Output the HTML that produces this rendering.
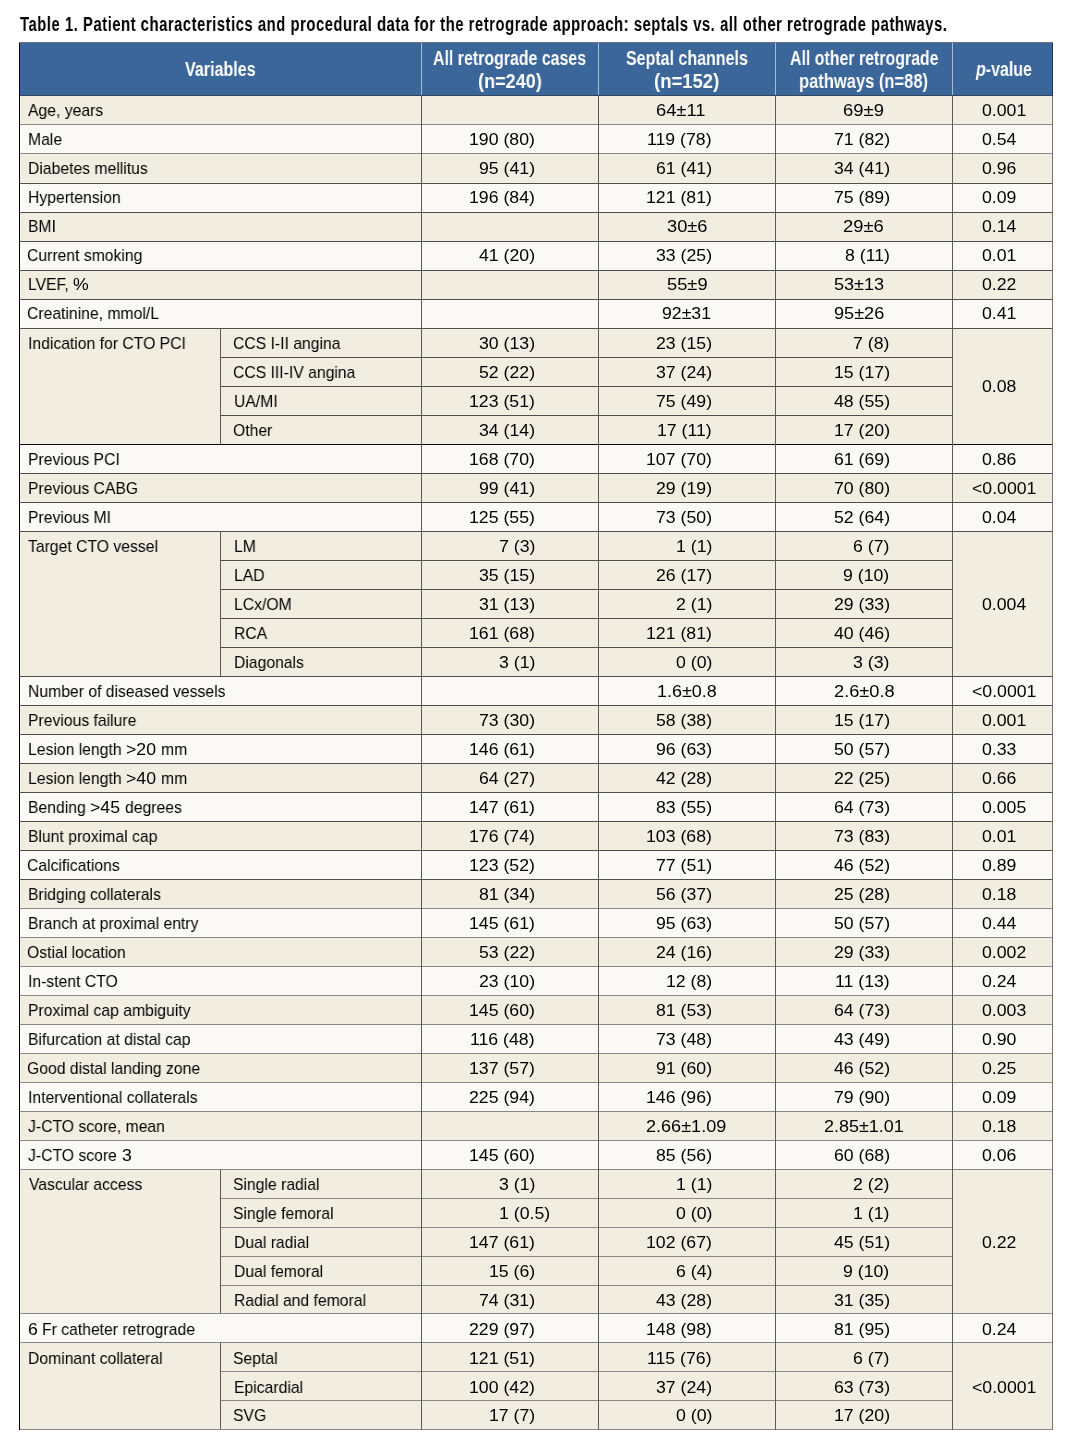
<!DOCTYPE html>
<html><head><meta charset="utf-8"><style>
html,body{margin:0;padding:0;background:#fff}
body{width:1077px;height:1450px;position:relative;overflow:hidden;font-family:"Liberation Sans",sans-serif}
i{position:absolute;display:block}
.t,.b{position:absolute;white-space:pre;color:#000;transform-origin:0 0;will-change:transform}
.t{font-size:17px;line-height:20px}
.b{font-size:20px;line-height:24px;font-weight:bold}
em{font-style:italic}
</style></head><body>
<i style="left:19px;top:42px;width:1034px;height:54px;background:#3b6699"></i>
<i style="left:19px;top:95px;width:1034px;height:29px;background:#f1eee1"></i>
<i style="left:19px;top:124px;width:1034px;height:29px;background:#faf9f5"></i>
<i style="left:19px;top:153px;width:1034px;height:30px;background:#f1eee1"></i>
<i style="left:19px;top:183px;width:1034px;height:29px;background:#faf9f5"></i>
<i style="left:19px;top:212px;width:1034px;height:29px;background:#f1eee1"></i>
<i style="left:19px;top:241px;width:1034px;height:29px;background:#faf9f5"></i>
<i style="left:19px;top:270px;width:1034px;height:29px;background:#f1eee1"></i>
<i style="left:19px;top:299px;width:1034px;height:29px;background:#faf9f5"></i>
<i style="left:19px;top:328px;width:1034px;height:116px;background:#f1eee1"></i>
<i style="left:19px;top:444px;width:1034px;height:29px;background:#faf9f5"></i>
<i style="left:19px;top:473px;width:1034px;height:29px;background:#f1eee1"></i>
<i style="left:19px;top:502px;width:1034px;height:29px;background:#faf9f5"></i>
<i style="left:19px;top:531px;width:1034px;height:145px;background:#f1eee1"></i>
<i style="left:19px;top:676px;width:1034px;height:29px;background:#faf9f5"></i>
<i style="left:19px;top:705px;width:1034px;height:29px;background:#f1eee1"></i>
<i style="left:19px;top:734px;width:1034px;height:29px;background:#faf9f5"></i>
<i style="left:19px;top:763px;width:1034px;height:29px;background:#f1eee1"></i>
<i style="left:19px;top:792px;width:1034px;height:29px;background:#faf9f5"></i>
<i style="left:19px;top:821px;width:1034px;height:29px;background:#f1eee1"></i>
<i style="left:19px;top:850px;width:1034px;height:29px;background:#faf9f5"></i>
<i style="left:19px;top:879px;width:1034px;height:29px;background:#f1eee1"></i>
<i style="left:19px;top:908px;width:1034px;height:29px;background:#faf9f5"></i>
<i style="left:19px;top:937px;width:1034px;height:29px;background:#f1eee1"></i>
<i style="left:19px;top:966px;width:1034px;height:29px;background:#faf9f5"></i>
<i style="left:19px;top:995px;width:1034px;height:29px;background:#f1eee1"></i>
<i style="left:19px;top:1024px;width:1034px;height:29px;background:#faf9f5"></i>
<i style="left:19px;top:1053px;width:1034px;height:29px;background:#f1eee1"></i>
<i style="left:19px;top:1082px;width:1034px;height:29px;background:#faf9f5"></i>
<i style="left:19px;top:1111px;width:1034px;height:29px;background:#f1eee1"></i>
<i style="left:19px;top:1140px;width:1034px;height:29px;background:#faf9f5"></i>
<i style="left:19px;top:1169px;width:1034px;height:144px;background:#f1eee1"></i>
<i style="left:19px;top:1313px;width:1034px;height:29px;background:#faf9f5"></i>
<i style="left:19px;top:1342px;width:1034px;height:87px;background:#f1eee1"></i>
<i style="left:19px;top:95px;width:1034px;height:1px;background:#34465c"></i>
<i style="left:19px;top:124px;width:1034px;height:1px;background:#8a8984"></i>
<i style="left:19px;top:153px;width:1034px;height:1px;background:#8a8984"></i>
<i style="left:19px;top:183px;width:1034px;height:1px;background:#4f4f4a"></i>
<i style="left:19px;top:212px;width:1034px;height:1px;background:#4f4f4a"></i>
<i style="left:19px;top:241px;width:1034px;height:1px;background:#4f4f4a"></i>
<i style="left:19px;top:270px;width:1034px;height:1px;background:#4f4f4a"></i>
<i style="left:19px;top:299px;width:1034px;height:1px;background:#4f4f4a"></i>
<i style="left:19px;top:328px;width:1034px;height:1px;background:#4f4f4a"></i>
<i style="left:19px;top:444px;width:1034px;height:1px;background:#0a0a0a"></i>
<i style="left:19px;top:473px;width:1034px;height:1px;background:#4f4f4a"></i>
<i style="left:19px;top:502px;width:1034px;height:1px;background:#4f4f4a"></i>
<i style="left:19px;top:531px;width:1034px;height:1px;background:#4f4f4a"></i>
<i style="left:19px;top:676px;width:1034px;height:1px;background:#4f4f4a"></i>
<i style="left:19px;top:705px;width:1034px;height:1px;background:#4f4f4a"></i>
<i style="left:19px;top:734px;width:1034px;height:1px;background:#4f4f4a"></i>
<i style="left:19px;top:763px;width:1034px;height:1px;background:#4f4f4a"></i>
<i style="left:19px;top:792px;width:1034px;height:1px;background:#4f4f4a"></i>
<i style="left:19px;top:821px;width:1034px;height:1px;background:#4f4f4a"></i>
<i style="left:19px;top:850px;width:1034px;height:1px;background:#4f4f4a"></i>
<i style="left:19px;top:879px;width:1034px;height:1px;background:#4f4f4a"></i>
<i style="left:19px;top:908px;width:1034px;height:1px;background:#8a8984"></i>
<i style="left:19px;top:937px;width:1034px;height:1px;background:#8a8984"></i>
<i style="left:19px;top:966px;width:1034px;height:1px;background:#8a8984"></i>
<i style="left:19px;top:995px;width:1034px;height:1px;background:#8a8984"></i>
<i style="left:19px;top:1024px;width:1034px;height:1px;background:#8a8984"></i>
<i style="left:19px;top:1053px;width:1034px;height:1px;background:#8a8984"></i>
<i style="left:19px;top:1082px;width:1034px;height:1px;background:#8a8984"></i>
<i style="left:19px;top:1111px;width:1034px;height:1px;background:#8a8984"></i>
<i style="left:19px;top:1140px;width:1034px;height:1px;background:#8a8984"></i>
<i style="left:19px;top:1169px;width:1034px;height:1px;background:#8a8984"></i>
<i style="left:19px;top:1313px;width:1034px;height:1px;background:#8a8984"></i>
<i style="left:19px;top:1342px;width:1034px;height:1px;background:#8a8984"></i>
<i style="left:19px;top:1429px;width:1034px;height:1px;background:#8a8984"></i>
<i style="left:220px;top:357px;width:732px;height:1px;background:#4f4f4a"></i>
<i style="left:220px;top:386px;width:732px;height:1px;background:#4f4f4a"></i>
<i style="left:220px;top:415px;width:732px;height:1px;background:#4f4f4a"></i>
<i style="left:220px;top:560px;width:732px;height:1px;background:#4f4f4a"></i>
<i style="left:220px;top:589px;width:732px;height:1px;background:#4f4f4a"></i>
<i style="left:220px;top:618px;width:732px;height:1px;background:#4f4f4a"></i>
<i style="left:220px;top:647px;width:732px;height:1px;background:#4f4f4a"></i>
<i style="left:220px;top:1198px;width:732px;height:1px;background:#8a8984"></i>
<i style="left:220px;top:1227px;width:732px;height:1px;background:#8a8984"></i>
<i style="left:220px;top:1256px;width:732px;height:1px;background:#8a8984"></i>
<i style="left:220px;top:1285px;width:732px;height:1px;background:#8a8984"></i>
<i style="left:220px;top:1371px;width:732px;height:1px;background:#8a8984"></i>
<i style="left:220px;top:1400px;width:732px;height:1px;background:#8a8984"></i>
<i style="left:19px;top:42px;width:1px;height:1388px;background:#000"></i>
<i style="left:1052px;top:42px;width:1px;height:54px;background:#1f3a5c"></i>
<i style="left:1052px;top:96px;width:1px;height:1334px;background:#77766c"></i>
<i style="left:421px;top:43px;width:1px;height:52px;background:#a9bcd6"></i>
<i style="left:421px;top:96px;width:1px;height:1334px;background:#5c5b55"></i>
<i style="left:598px;top:43px;width:1px;height:52px;background:#a9bcd6"></i>
<i style="left:598px;top:96px;width:1px;height:1334px;background:#5c5b55"></i>
<i style="left:775px;top:43px;width:1px;height:52px;background:#a9bcd6"></i>
<i style="left:775px;top:96px;width:1px;height:1334px;background:#5c5b55"></i>
<i style="left:952px;top:43px;width:1px;height:52px;background:#a9bcd6"></i>
<i style="left:952px;top:96px;width:1px;height:1334px;background:#5c5b55"></i>
<i style="left:220px;top:328px;width:1px;height:116px;background:#5c5b55"></i>
<i style="left:220px;top:531px;width:1px;height:145px;background:#5c5b55"></i>
<i style="left:220px;top:1169px;width:1px;height:144px;background:#5c5b55"></i>
<i style="left:220px;top:1342px;width:1px;height:87px;background:#5c5b55"></i>
<i style="left:19px;top:42px;width:1034px;height:1px;background:#6b7280"></i>
<div class="t" style="left:27.92px;top:101px;transform:scaleX(0.9250)">Age, years</div>
<div class="t" style="left:655.97px;top:101px;transform:scaleX(1.0771)">64±11</div>
<div class="t" style="left:843.06px;top:101px;transform:scaleX(1.0853)">69±9</div>
<div class="t" style="left:981.81px;top:101px;transform:scaleX(1.0400)">0.001</div>
<div class="t" style="left:27.91px;top:130px;transform:scaleX(0.9250)">Male</div>
<div class="t" style="left:469.05px;top:130px;transform:scaleX(1.0400)">190 (80)</div>
<div class="t" style="left:647.36px;top:130px;transform:scaleX(1.0400)">119 (78)</div>
<div class="t" style="left:833.58px;top:130px;transform:scaleX(1.0400)">71 (82)</div>
<div class="t" style="left:981.81px;top:130px;transform:scaleX(1.0400)">0.54</div>
<div class="t" style="left:27.91px;top:159px;transform:scaleX(0.9250)">Diabetes mellitus</div>
<div class="t" style="left:478.88px;top:159px;transform:scaleX(1.0400)">95 (41)</div>
<div class="t" style="left:655.88px;top:159px;transform:scaleX(1.0400)">61 (41)</div>
<div class="t" style="left:833.58px;top:159px;transform:scaleX(1.0400)">34 (41)</div>
<div class="t" style="left:981.81px;top:159px;transform:scaleX(1.0400)">0.96</div>
<div class="t" style="left:27.91px;top:188px;transform:scaleX(0.9250)">Hypertension</div>
<div class="t" style="left:469.05px;top:188px;transform:scaleX(1.0400)">196 (84)</div>
<div class="t" style="left:646.05px;top:188px;transform:scaleX(1.0400)">121 (81)</div>
<div class="t" style="left:833.58px;top:188px;transform:scaleX(1.0400)">75 (89)</div>
<div class="t" style="left:981.81px;top:188px;transform:scaleX(1.0400)">0.09</div>
<div class="t" style="left:27.91px;top:217px;transform:scaleX(0.9250)">BMI</div>
<div class="t" style="left:666.60px;top:217px;transform:scaleX(1.0744)">30±6</div>
<div class="t" style="left:843.18px;top:217px;transform:scaleX(1.0806)">29±6</div>
<div class="t" style="left:981.81px;top:217px;transform:scaleX(1.0400)">0.14</div>
<div class="t" style="left:27.40px;top:246px;transform:scaleX(0.9250)">Current smoking</div>
<div class="t" style="left:478.88px;top:246px;transform:scaleX(1.0400)">41 (20)</div>
<div class="t" style="left:655.88px;top:246px;transform:scaleX(1.0400)">33 (25)</div>
<div class="t" style="left:844.72px;top:246px;transform:scaleX(1.0400)">8 (11)</div>
<div class="t" style="left:981.81px;top:246px;transform:scaleX(1.0400)">0.01</div>
<div class="t" style="left:27.91px;top:275px;transform:scaleX(0.9250)">LVEF, </div>
<div class="t" style="left:73.07px;top:275px;transform:scaleX(1.0400)">%</div>
<div class="t" style="left:666.57px;top:275px;transform:scaleX(1.0771)">55±9</div>
<div class="t" style="left:833.78px;top:275px;transform:scaleX(1.0630)">53±13</div>
<div class="t" style="left:981.81px;top:275px;transform:scaleX(1.0400)">0.22</div>
<div class="t" style="left:27.40px;top:304px;transform:scaleX(0.9250)">Creatinine, mmol/L</div>
<div class="t" style="left:662.07px;top:304px;transform:scaleX(1.0391)">92±31</div>
<div class="t" style="left:833.65px;top:304px;transform:scaleX(1.0657)">95±26</div>
<div class="t" style="left:981.81px;top:304px;transform:scaleX(1.0400)">0.41</div>
<div class="t" style="left:27.91px;top:450px;transform:scaleX(0.9250)">Previous PCI</div>
<div class="t" style="left:469.05px;top:450px;transform:scaleX(1.0400)">168 (70)</div>
<div class="t" style="left:646.05px;top:450px;transform:scaleX(1.0400)">107 (70)</div>
<div class="t" style="left:833.58px;top:450px;transform:scaleX(1.0400)">61 (69)</div>
<div class="t" style="left:981.81px;top:450px;transform:scaleX(1.0400)">0.86</div>
<div class="t" style="left:27.91px;top:479px;transform:scaleX(0.9250)">Previous CABG</div>
<div class="t" style="left:478.88px;top:479px;transform:scaleX(1.0400)">99 (41)</div>
<div class="t" style="left:655.88px;top:479px;transform:scaleX(1.0400)">29 (19)</div>
<div class="t" style="left:833.58px;top:479px;transform:scaleX(1.0400)">70 (80)</div>
<div class="t" style="left:972.03px;top:479px;transform:scaleX(1.0400)">&lt;0.0001</div>
<div class="t" style="left:27.91px;top:508px;transform:scaleX(0.9250)">Previous MI</div>
<div class="t" style="left:469.05px;top:508px;transform:scaleX(1.0400)">125 (55)</div>
<div class="t" style="left:655.88px;top:508px;transform:scaleX(1.0400)">73 (50)</div>
<div class="t" style="left:833.58px;top:508px;transform:scaleX(1.0400)">52 (64)</div>
<div class="t" style="left:981.81px;top:508px;transform:scaleX(1.0400)">0.04</div>
<div class="t" style="left:27.91px;top:682px;transform:scaleX(0.9250)">Number of diseased vessels</div>
<div class="t" style="left:656.83px;top:682px;transform:scaleX(1.0575)">1.6±0.8</div>
<div class="t" style="left:833.58px;top:682px;transform:scaleX(1.0727)">2.6±0.8</div>
<div class="t" style="left:972.03px;top:682px;transform:scaleX(1.0400)">&lt;0.0001</div>
<div class="t" style="left:27.91px;top:711px;transform:scaleX(0.9250)">Previous failure</div>
<div class="t" style="left:478.88px;top:711px;transform:scaleX(1.0400)">73 (30)</div>
<div class="t" style="left:655.88px;top:711px;transform:scaleX(1.0400)">58 (38)</div>
<div class="t" style="left:833.58px;top:711px;transform:scaleX(1.0400)">15 (17)</div>
<div class="t" style="left:981.81px;top:711px;transform:scaleX(1.0400)">0.001</div>
<div class="t" style="left:27.91px;top:740px;transform:scaleX(0.9250)">Lesion length </div>
<div class="t" style="left:125.83px;top:740px;transform:scaleX(1.0400)">&gt;20 </div>
<div class="t" style="left:160.73px;top:740px;transform:scaleX(0.9250)">mm</div>
<div class="t" style="left:469.05px;top:740px;transform:scaleX(1.0400)">146 (61)</div>
<div class="t" style="left:655.88px;top:740px;transform:scaleX(1.0400)">96 (63)</div>
<div class="t" style="left:833.58px;top:740px;transform:scaleX(1.0400)">50 (57)</div>
<div class="t" style="left:981.81px;top:740px;transform:scaleX(1.0400)">0.33</div>
<div class="t" style="left:27.91px;top:769px;transform:scaleX(0.9250)">Lesion length </div>
<div class="t" style="left:125.83px;top:769px;transform:scaleX(1.0400)">&gt;40 </div>
<div class="t" style="left:160.73px;top:769px;transform:scaleX(0.9250)">mm</div>
<div class="t" style="left:478.88px;top:769px;transform:scaleX(1.0400)">64 (27)</div>
<div class="t" style="left:655.88px;top:769px;transform:scaleX(1.0400)">42 (28)</div>
<div class="t" style="left:833.58px;top:769px;transform:scaleX(1.0400)">22 (25)</div>
<div class="t" style="left:981.81px;top:769px;transform:scaleX(1.0400)">0.66</div>
<div class="t" style="left:27.91px;top:798px;transform:scaleX(0.9250)">Bending </div>
<div class="t" style="left:89.99px;top:798px;transform:scaleX(1.0400)">&gt;45 </div>
<div class="t" style="left:124.89px;top:798px;transform:scaleX(0.9250)">degrees</div>
<div class="t" style="left:469.05px;top:798px;transform:scaleX(1.0400)">147 (61)</div>
<div class="t" style="left:655.88px;top:798px;transform:scaleX(1.0400)">83 (55)</div>
<div class="t" style="left:833.58px;top:798px;transform:scaleX(1.0400)">64 (73)</div>
<div class="t" style="left:981.81px;top:798px;transform:scaleX(1.0400)">0.005</div>
<div class="t" style="left:27.91px;top:827px;transform:scaleX(0.9250)">Blunt proximal cap</div>
<div class="t" style="left:469.05px;top:827px;transform:scaleX(1.0400)">176 (74)</div>
<div class="t" style="left:646.05px;top:827px;transform:scaleX(1.0400)">103 (68)</div>
<div class="t" style="left:833.58px;top:827px;transform:scaleX(1.0400)">73 (83)</div>
<div class="t" style="left:981.81px;top:827px;transform:scaleX(1.0400)">0.01</div>
<div class="t" style="left:27.40px;top:856px;transform:scaleX(0.9250)">Calcifications</div>
<div class="t" style="left:469.05px;top:856px;transform:scaleX(1.0400)">123 (52)</div>
<div class="t" style="left:655.88px;top:856px;transform:scaleX(1.0400)">77 (51)</div>
<div class="t" style="left:833.58px;top:856px;transform:scaleX(1.0400)">46 (52)</div>
<div class="t" style="left:981.81px;top:856px;transform:scaleX(1.0400)">0.89</div>
<div class="t" style="left:27.91px;top:885px;transform:scaleX(0.9250)">Bridging collaterals</div>
<div class="t" style="left:478.88px;top:885px;transform:scaleX(1.0400)">81 (34)</div>
<div class="t" style="left:655.88px;top:885px;transform:scaleX(1.0400)">56 (37)</div>
<div class="t" style="left:833.58px;top:885px;transform:scaleX(1.0400)">25 (28)</div>
<div class="t" style="left:981.81px;top:885px;transform:scaleX(1.0400)">0.18</div>
<div class="t" style="left:27.91px;top:914px;transform:scaleX(0.9250)">Branch at proximal entry</div>
<div class="t" style="left:469.05px;top:914px;transform:scaleX(1.0400)">145 (61)</div>
<div class="t" style="left:655.88px;top:914px;transform:scaleX(1.0400)">95 (63)</div>
<div class="t" style="left:833.58px;top:914px;transform:scaleX(1.0400)">50 (57)</div>
<div class="t" style="left:981.81px;top:914px;transform:scaleX(1.0400)">0.44</div>
<div class="t" style="left:27.46px;top:943px;transform:scaleX(0.9250)">Ostial location</div>
<div class="t" style="left:478.88px;top:943px;transform:scaleX(1.0400)">53 (22)</div>
<div class="t" style="left:655.88px;top:943px;transform:scaleX(1.0400)">24 (16)</div>
<div class="t" style="left:833.58px;top:943px;transform:scaleX(1.0400)">29 (33)</div>
<div class="t" style="left:981.81px;top:943px;transform:scaleX(1.0400)">0.002</div>
<div class="t" style="left:28.30px;top:972px;transform:scaleX(0.9250)">In-stent CTO</div>
<div class="t" style="left:478.88px;top:972px;transform:scaleX(1.0400)">23 (10)</div>
<div class="t" style="left:665.71px;top:972px;transform:scaleX(1.0400)">12 (8)</div>
<div class="t" style="left:834.89px;top:972px;transform:scaleX(1.0400)">11 (13)</div>
<div class="t" style="left:981.81px;top:972px;transform:scaleX(1.0400)">0.24</div>
<div class="t" style="left:27.91px;top:1001px;transform:scaleX(0.9250)">Proximal cap ambiguity</div>
<div class="t" style="left:469.05px;top:1001px;transform:scaleX(1.0400)">145 (60)</div>
<div class="t" style="left:655.88px;top:1001px;transform:scaleX(1.0400)">81 (53)</div>
<div class="t" style="left:833.58px;top:1001px;transform:scaleX(1.0400)">64 (73)</div>
<div class="t" style="left:981.81px;top:1001px;transform:scaleX(1.0400)">0.003</div>
<div class="t" style="left:27.91px;top:1030px;transform:scaleX(0.9250)">Bifurcation at distal cap</div>
<div class="t" style="left:470.36px;top:1030px;transform:scaleX(1.0400)">116 (48)</div>
<div class="t" style="left:655.88px;top:1030px;transform:scaleX(1.0400)">73 (48)</div>
<div class="t" style="left:833.58px;top:1030px;transform:scaleX(1.0400)">43 (49)</div>
<div class="t" style="left:981.81px;top:1030px;transform:scaleX(1.0400)">0.90</div>
<div class="t" style="left:27.41px;top:1059px;transform:scaleX(0.9250)">Good distal landing zone</div>
<div class="t" style="left:469.05px;top:1059px;transform:scaleX(1.0400)">137 (57)</div>
<div class="t" style="left:655.88px;top:1059px;transform:scaleX(1.0400)">91 (60)</div>
<div class="t" style="left:833.58px;top:1059px;transform:scaleX(1.0400)">46 (52)</div>
<div class="t" style="left:981.81px;top:1059px;transform:scaleX(1.0400)">0.25</div>
<div class="t" style="left:28.30px;top:1088px;transform:scaleX(0.9250)">Interventional collaterals</div>
<div class="t" style="left:469.05px;top:1088px;transform:scaleX(1.0400)">225 (94)</div>
<div class="t" style="left:646.05px;top:1088px;transform:scaleX(1.0400)">146 (96)</div>
<div class="t" style="left:833.58px;top:1088px;transform:scaleX(1.0400)">79 (90)</div>
<div class="t" style="left:981.81px;top:1088px;transform:scaleX(1.0400)">0.09</div>
<div class="t" style="left:28.35px;top:1117px;transform:scaleX(0.9250)">J-CTO score, mean</div>
<div class="t" style="left:646.39px;top:1117px;transform:scaleX(1.0631)">2.66±1.09</div>
<div class="t" style="left:823.70px;top:1117px;transform:scaleX(1.0566)">2.85±1.01</div>
<div class="t" style="left:981.81px;top:1117px;transform:scaleX(1.0400)">0.18</div>
<div class="t" style="left:28.35px;top:1146px;transform:scaleX(0.9250)">J-CTO score </div>
<div class="t" style="left:121.55px;top:1146px;transform:scaleX(1.0400)">3</div>
<div class="t" style="left:469.05px;top:1146px;transform:scaleX(1.0400)">145 (60)</div>
<div class="t" style="left:655.88px;top:1146px;transform:scaleX(1.0400)">85 (56)</div>
<div class="t" style="left:833.58px;top:1146px;transform:scaleX(1.0400)">60 (68)</div>
<div class="t" style="left:981.81px;top:1146px;transform:scaleX(1.0400)">0.06</div>
<div class="t" style="left:27.50px;top:1320px;transform:scaleX(1.0400)">6 </div>
<div class="t" style="left:42.25px;top:1320px;transform:scaleX(0.9250)">Fr catheter retrograde</div>
<div class="t" style="left:469.05px;top:1320px;transform:scaleX(1.0400)">229 (97)</div>
<div class="t" style="left:646.05px;top:1320px;transform:scaleX(1.0400)">148 (98)</div>
<div class="t" style="left:833.58px;top:1320px;transform:scaleX(1.0400)">81 (95)</div>
<div class="t" style="left:981.81px;top:1320px;transform:scaleX(1.0400)">0.24</div>
<div class="t" style="left:28.30px;top:334px;transform:scaleX(0.9250)">Indication for CTO PCI</div>
<div class="t" style="left:233.30px;top:334px;transform:scaleX(0.9250)">CCS I-II angina</div>
<div class="t" style="left:478.88px;top:334px;transform:scaleX(1.0400)">30 (13)</div>
<div class="t" style="left:655.88px;top:334px;transform:scaleX(1.0400)">23 (15)</div>
<div class="t" style="left:853.24px;top:334px;transform:scaleX(1.0400)">7 (8)</div>
<div class="t" style="left:233.30px;top:363px;transform:scaleX(0.9250)">CCS III-IV angina</div>
<div class="t" style="left:478.88px;top:363px;transform:scaleX(1.0400)">52 (22)</div>
<div class="t" style="left:655.88px;top:363px;transform:scaleX(1.0400)">37 (24)</div>
<div class="t" style="left:833.58px;top:363px;transform:scaleX(1.0400)">15 (17)</div>
<div class="t" style="left:233.89px;top:392px;transform:scaleX(0.9250)">UA/MI</div>
<div class="t" style="left:469.05px;top:392px;transform:scaleX(1.0400)">123 (51)</div>
<div class="t" style="left:655.88px;top:392px;transform:scaleX(1.0400)">75 (49)</div>
<div class="t" style="left:833.58px;top:392px;transform:scaleX(1.0400)">48 (55)</div>
<div class="t" style="left:233.36px;top:421px;transform:scaleX(0.9250)">Other</div>
<div class="t" style="left:478.88px;top:421px;transform:scaleX(1.0400)">34 (14)</div>
<div class="t" style="left:657.19px;top:421px;transform:scaleX(1.0400)">17 (11)</div>
<div class="t" style="left:833.58px;top:421px;transform:scaleX(1.0400)">17 (20)</div>
<div class="t" style="left:981.81px;top:377px;transform:scaleX(1.0400)">0.08</div>
<div class="t" style="left:28.25px;top:537px;transform:scaleX(0.9250)">Target CTO vessel</div>
<div class="t" style="left:233.81px;top:537px;transform:scaleX(0.9250)">LM</div>
<div class="t" style="left:498.54px;top:537px;transform:scaleX(1.0400)">7 (3)</div>
<div class="t" style="left:675.54px;top:537px;transform:scaleX(1.0400)">1 (1)</div>
<div class="t" style="left:853.24px;top:537px;transform:scaleX(1.0400)">6 (7)</div>
<div class="t" style="left:233.81px;top:566px;transform:scaleX(0.9250)">LAD</div>
<div class="t" style="left:478.88px;top:566px;transform:scaleX(1.0400)">35 (15)</div>
<div class="t" style="left:655.88px;top:566px;transform:scaleX(1.0400)">26 (17)</div>
<div class="t" style="left:843.41px;top:566px;transform:scaleX(1.0400)">9 (10)</div>
<div class="t" style="left:233.81px;top:595px;transform:scaleX(0.9250)">LCx/OM</div>
<div class="t" style="left:478.88px;top:595px;transform:scaleX(1.0400)">31 (13)</div>
<div class="t" style="left:675.54px;top:595px;transform:scaleX(1.0400)">2 (1)</div>
<div class="t" style="left:833.58px;top:595px;transform:scaleX(1.0400)">29 (33)</div>
<div class="t" style="left:233.81px;top:624px;transform:scaleX(0.9250)">RCA</div>
<div class="t" style="left:469.05px;top:624px;transform:scaleX(1.0400)">161 (68)</div>
<div class="t" style="left:646.05px;top:624px;transform:scaleX(1.0400)">121 (81)</div>
<div class="t" style="left:833.58px;top:624px;transform:scaleX(1.0400)">40 (46)</div>
<div class="t" style="left:233.81px;top:653px;transform:scaleX(0.9250)">Diagonals</div>
<div class="t" style="left:498.54px;top:653px;transform:scaleX(1.0400)">3 (1)</div>
<div class="t" style="left:675.54px;top:653px;transform:scaleX(1.0400)">0 (0)</div>
<div class="t" style="left:853.24px;top:653px;transform:scaleX(1.0400)">3 (3)</div>
<div class="t" style="left:981.81px;top:595px;transform:scaleX(1.0400)">0.004</div>
<div class="t" style="left:29.13px;top:1175px;transform:scaleX(0.9250)">Vascular access</div>
<div class="t" style="left:233.39px;top:1175px;transform:scaleX(0.9250)">Single radial</div>
<div class="t" style="left:498.54px;top:1175px;transform:scaleX(1.0400)">3 (1)</div>
<div class="t" style="left:675.54px;top:1175px;transform:scaleX(1.0400)">1 (1)</div>
<div class="t" style="left:853.24px;top:1175px;transform:scaleX(1.0400)">2 (2)</div>
<div class="t" style="left:233.39px;top:1204px;transform:scaleX(0.9250)">Single femoral</div>
<div class="t" style="left:499.15px;top:1204px;transform:scaleX(1.0410)">1 (0.5)</div>
<div class="t" style="left:675.54px;top:1204px;transform:scaleX(1.0400)">0 (0)</div>
<div class="t" style="left:853.24px;top:1204px;transform:scaleX(1.0400)">1 (1)</div>
<div class="t" style="left:233.81px;top:1233px;transform:scaleX(0.9250)">Dual radial</div>
<div class="t" style="left:469.05px;top:1233px;transform:scaleX(1.0400)">147 (61)</div>
<div class="t" style="left:646.05px;top:1233px;transform:scaleX(1.0400)">102 (67)</div>
<div class="t" style="left:833.58px;top:1233px;transform:scaleX(1.0400)">45 (51)</div>
<div class="t" style="left:233.81px;top:1262px;transform:scaleX(0.9250)">Dual femoral</div>
<div class="t" style="left:488.71px;top:1262px;transform:scaleX(1.0400)">15 (6)</div>
<div class="t" style="left:675.54px;top:1262px;transform:scaleX(1.0400)">6 (4)</div>
<div class="t" style="left:843.41px;top:1262px;transform:scaleX(1.0400)">9 (10)</div>
<div class="t" style="left:233.81px;top:1291px;transform:scaleX(0.9250)">Radial and femoral</div>
<div class="t" style="left:478.88px;top:1291px;transform:scaleX(1.0400)">74 (31)</div>
<div class="t" style="left:655.88px;top:1291px;transform:scaleX(1.0400)">43 (28)</div>
<div class="t" style="left:833.58px;top:1291px;transform:scaleX(1.0400)">31 (35)</div>
<div class="t" style="left:981.81px;top:1233px;transform:scaleX(1.0400)">0.22</div>
<div class="t" style="left:27.91px;top:1349px;transform:scaleX(0.9250)">Dominant collateral</div>
<div class="t" style="left:233.39px;top:1349px;transform:scaleX(0.9250)">Septal</div>
<div class="t" style="left:469.05px;top:1349px;transform:scaleX(1.0400)">121 (51)</div>
<div class="t" style="left:647.36px;top:1349px;transform:scaleX(1.0400)">115 (76)</div>
<div class="t" style="left:853.24px;top:1349px;transform:scaleX(1.0400)">6 (7)</div>
<div class="t" style="left:233.61px;top:1378px;transform:scaleX(0.9250)">Epicardial</div>
<div class="t" style="left:469.05px;top:1378px;transform:scaleX(1.0400)">100 (42)</div>
<div class="t" style="left:655.88px;top:1378px;transform:scaleX(1.0400)">37 (24)</div>
<div class="t" style="left:833.58px;top:1378px;transform:scaleX(1.0400)">63 (73)</div>
<div class="t" style="left:233.39px;top:1406px;transform:scaleX(0.9250)">SVG</div>
<div class="t" style="left:488.71px;top:1406px;transform:scaleX(1.0400)">17 (7)</div>
<div class="t" style="left:675.54px;top:1406px;transform:scaleX(1.0400)">0 (0)</div>
<div class="t" style="left:833.58px;top:1406px;transform:scaleX(1.0400)">17 (20)</div>
<div class="t" style="left:972.03px;top:1378px;transform:scaleX(1.0400)">&lt;0.0001</div>
<div class="b" style="left:20.08px;top:12px;transform:scaleX(0.7400);letter-spacing:0.726px">Table 1. Patient characteristics and procedural data for the retrograde approach: septals vs. all other retrograde pathways.</div>
<div class="b" style="left:185.29px;top:57px;transform:scaleX(0.8045);color:#fff">Variables</div>
<div class="b" style="left:432.90px;top:46px;transform:scaleX(0.7958);color:#fff">All retrograde cases</div>
<div class="b" style="left:477.60px;top:69px;transform:scaleX(0.9039);color:#fff">(n=240)</div>
<div class="b" style="left:626.24px;top:46px;transform:scaleX(0.8000);color:#fff">Septal channels</div>
<div class="b" style="left:654.48px;top:69px;transform:scaleX(0.9228);color:#fff">(n=152)</div>
<div class="b" style="left:789.50px;top:46px;transform:scaleX(0.7956);color:#fff">All other retrograde</div>
<div class="b" style="left:799.11px;top:69px;transform:scaleX(0.8261);color:#fff">pathways (n=88)</div>
<div class="b" style="left:975.6px;top:57px;transform:scaleX(0.797);color:#fff"><em>p</em>-value</div>
</body></html>
